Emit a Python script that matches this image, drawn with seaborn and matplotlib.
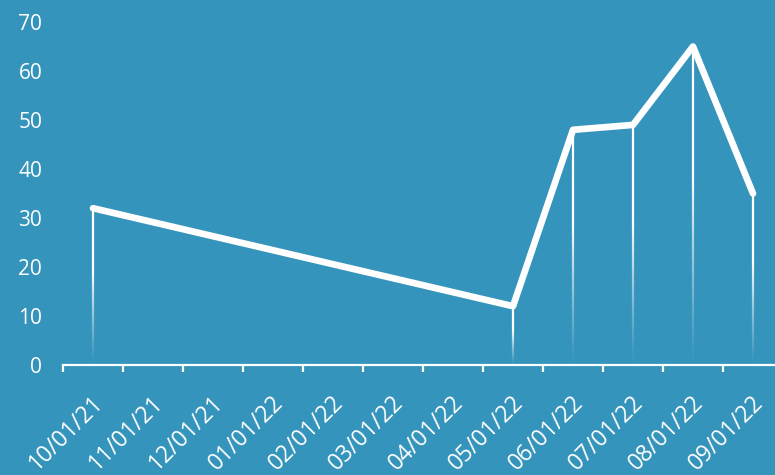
import matplotlib
matplotlib.use("Agg")
import matplotlib.pyplot as plt
import matplotlib.transforms as mtransforms
import numpy as np
import pandas as pd
import seaborn as sns

# ---- data ----
months = ["10/01/21", "11/01/21", "12/01/21", "01/01/22", "02/01/22", "03/01/22",
          "04/01/22", "05/01/22", "06/01/22", "07/01/22", "08/01/22", "09/01/22"]
values = [32, np.nan, np.nan, np.nan, np.nan, np.nan, np.nan, 12, 48, 49, 65, 35]
y_ticks = [0, 10, 20, 30, 40, 50, 60, 70]

BG = "#3594bb"
WHITE = "#ffffff"

sns.set_theme(style="white")
plt.rcParams["font.family"] = ["Open Sans", "DejaVu Sans"]

df = pd.DataFrame({"pos": np.arange(len(months)), "month": months, "value": values})
df_valid = df.dropna()

fig = plt.figure(figsize=(7.75, 4.75), dpi=100, facecolor=BG)
ax = fig.add_axes([63 / 775, 110 / 475, 720 / 775, 343 / 475])
ax.set_facecolor(BG)

# gradient drop lines
n_seg = 80
for _, row in df_valid.iterrows():
    v = row["value"]
    edges = np.linspace(0, v, n_seg + 1)
    mids = (edges[:-1] + edges[1:]) / 2
    alphas = np.clip((mids / v) / 0.6, 0, 1) ** 1.2
    cols = [(1, 1, 1, a) for a in alphas]
    ax.vlines([row["pos"]] * n_seg, edges[:-1], edges[1:], colors=cols,
              linewidth=1.6, zorder=2)

sns.lineplot(data=df_valid, x="pos", y="value", ax=ax, color=WHITE,
             linewidth=4.8, zorder=3, sort=False)
for ln in ax.lines:
    ln.set_solid_capstyle("round")
    ln.set_solid_joinstyle("round")

ax.set_xlim(-0.5, len(months) - 0.5)
ax.set_ylim(0, 70)
ax.set_xlabel("")
ax.set_ylabel("")

for s in ["top", "right", "left"]:
    ax.spines[s].set_visible(False)
ax.spines["bottom"].set_color(WHITE)
ax.spines["bottom"].set_linewidth(1.6)

ax.set_yticks(y_ticks)
ax.set_yticklabels([str(t) for t in y_ticks])
ax.tick_params(axis="y", length=0, pad=15, labelsize=15, labelcolor=WHITE)

ax.set_xticks(df["pos"])
ax.set_xticklabels(months)
ax.set_xticks(np.arange(len(months) + 1) - 0.5, minor=True)
ax.tick_params(axis="x", which="major", length=0, pad=25, labelsize=16.5,
               labelcolor=WHITE)
ax.tick_params(axis="x", which="minor", length=5, width=1.6, color=WHITE,
               direction="out", bottom=True)
offset = mtransforms.ScaledTranslation(7 / 100, 0, fig.dpi_scale_trans)
for lab in ax.get_xticklabels():
    lab.set_rotation(45)
    lab.set_ha("right")
    lab.set_va("center")
    lab.set_rotation_mode("anchor")
    lab.set_transform(lab.get_transform() + offset)

ax.grid(False)
fig.savefig("out.png", dpi=100, facecolor=BG)
